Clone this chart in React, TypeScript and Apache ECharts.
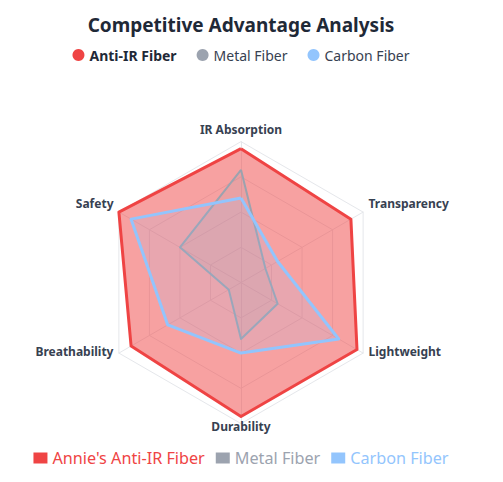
import React, { useEffect, useRef } from "react";
import * as echarts from "echarts";

const TITLE = "Competitive Advantage Analysis";
const INDICATORS = ["IR Absorption", "Safety", "Breathability", "Durability", "Lightweight", "Transparency"];
const MAXES = [100, 100, 100, 100, 100, 100];
const SERIES_NAMES = ["Annie's Anti-IR Fiber", "Metal Fiber", "Carbon Fiber"];
const SHORT_NAMES = ["Anti-IR Fiber", "Metal Fiber", "Carbon Fiber"];
const ANTI_IR = [95, 100, 90, 95, 95, 90];
const METAL = [80, 50, 10, 40, 30, 20];
const CARBON = [60, 90, 60, 50, 80, 30];
const COLORS = ["#ef4444", "#9ca3af", "#93c5fd"];

const FONT = "'Noto Sans', 'Open Sans', sans-serif";

// label style key per indicator (text placement tweaks)
const NAME_STYLE = ["top", "ul", "ll", "bot", "lr", "ur"];

export default function App() {
  const ref = useRef<HTMLDivElement>(null);
  useEffect(() => {
    if (!ref.current) return;
    const chart = echarts.init(ref.current, null, { renderer: "svg" });
    const values = [ANTI_IR, METAL, CARBON];
    const styles = [
      { lw: 3, area: 0.5 },
      { lw: 2, area: 0.15 },
      { lw: 3, area: 0.15 },
    ];
    const base = { color: "#374151", fontSize: 12, fontWeight: "bold", fontFamily: FONT };
    chart.setOption({
      animation: false,
      textStyle: { fontFamily: FONT },
      title: {
        text: TITLE,
        left: "center",
        top: 2,
        textStyle: { fontSize: 19, fontWeight: "bold", color: "#1f2937", fontFamily: FONT },
      },
      legend: [
        {
          top: 35,
          left: "center",
          icon: "circle",
          itemWidth: 12,
          itemHeight: 12,
          itemGap: 20,
          data: SERIES_NAMES,
          formatter: (name: string) => {
            const i = SERIES_NAMES.indexOf(name);
            const s = SHORT_NAMES[i];
            return i === 0 ? `{b|${s}}` : s;
          },
          textStyle: {
            fontSize: 14,
            color: "#374151",
            fontFamily: FONT,
            rich: { b: { fontSize: 14, fontWeight: "bold", color: "#1f2937", fontFamily: FONT } },
          },
        },
        {
          bottom: 3,
          left: "center",
          icon: "rect",
          itemWidth: 14,
          itemHeight: 11,
          itemGap: 11,
          data: SERIES_NAMES.map((n, i) => ({
            name: n,
            textStyle: { color: COLORS[i], fontSize: 16.2, fontFamily: FONT },
          })),
          textStyle: { fontSize: 16.2, fontFamily: FONT },
        },
      ],
      radar: {
        center: [233, 274.6],
        radius: 141,
        startAngle: 90,
        splitNumber: 4,
        shape: "polygon",
        indicator: INDICATORS.map((n, i) => ({ name: n, max: MAXES[i], min: 0 })),
        nameGap: -3,
        axisName: {
          ...base,
          formatter: (name: string) => {
            const i = INDICATORS.indexOf(name);
            return `{${NAME_STYLE[i]}|${name}}`;
          },
          rich: {
            top: { ...base, padding: [0, 0, 9, 0] },
            bot: { ...base, padding: [0, 0, 0, 0] },
            ul: { ...base, padding: [0, 8, 21, 0] },
            ur: { ...base, padding: [0, 0, 21, 8] },
            ll: { ...base, padding: [0, 8, 0, 0] },
            lr: { ...base, padding: [0, 0, 0, 8] },
          },
        },
        splitLine: { lineStyle: { color: "#e5e7eb", width: 1 } },
        splitArea: { show: false },
        axisLine: { lineStyle: { color: "#e5e7eb" } },
      },
      series: [
        {
          type: "radar",
          symbol: "none",
          data: values.map((v, i) => ({
            name: SERIES_NAMES[i],
            value: v,
            itemStyle: { color: COLORS[i] },
            lineStyle: { color: COLORS[i], width: styles[i].lw },
            areaStyle: { color: COLORS[i], opacity: styles[i].area },
          })),
        },
      ],
    });
    return () => chart.dispose();
  }, []);
  return <div ref={ref} style={{ width: 466, height: 466 }} />;
}
